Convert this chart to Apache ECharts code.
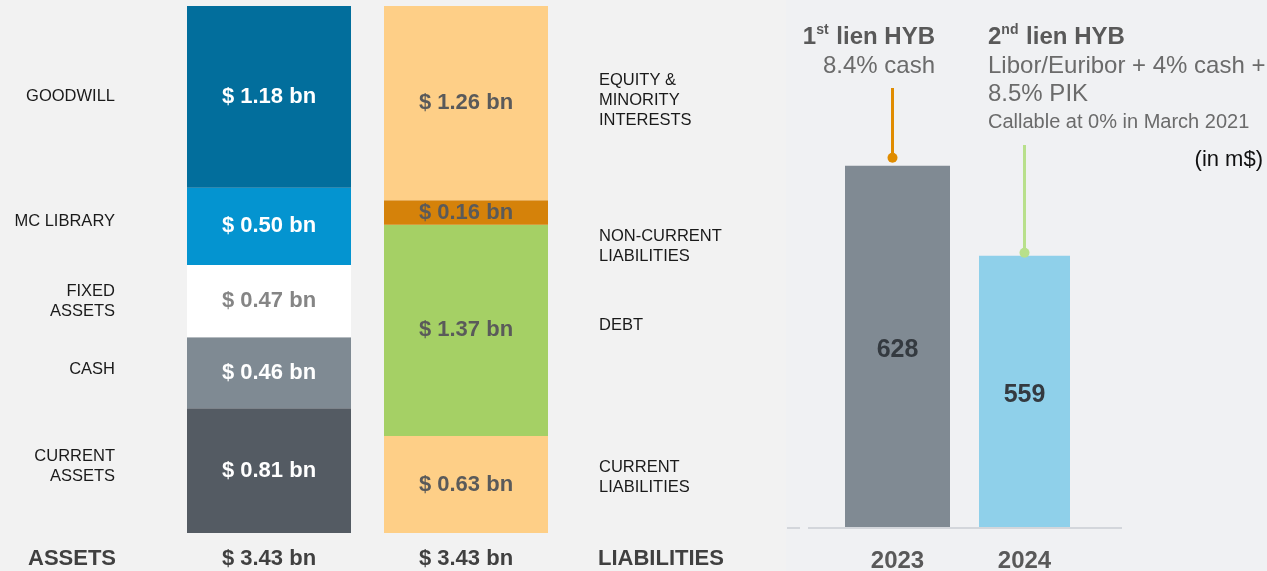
<!DOCTYPE html>
<html>
<head>
<meta charset="utf-8">
<style>
    html, body { margin: 0; padding: 0; background: #f2f2f2; }
    #chart { width: 1267px; height: 571px; }
</style>
</head>
<body>
<div id="chart"></div>
<script src="https://cdn.jsdelivr.net/npm/echarts@6/dist/echarts.min.js"></script>
<script>
var FONT = '"Liberation Sans", Arial, sans-serif';

// balance sheet in $ bn, listed bottom to top
var assetNames = ['CURRENT\nASSETS', 'CASH', 'FIXED\nASSETS', 'MC LIBRARY', 'GOODWILL'];
var assetValues = [0.81, 0.46, 0.47, 0.50, 1.18];
var liabNames = ['CURRENT\nLIABILITIES', 'DEBT', 'NON-CURRENT\nLIABILITIES', 'EQUITY &\nMINORITY\nINTERESTS'];
var liabValues = [0.63, 1.37, 0.16, 1.26];
var sideLabels = ['ASSETS', 'LIABILITIES'];
var totalLabels = ['$ 3.43 bn', '$ 3.43 bn'];

// HYB maturities in m$
var years = ['2023', '2024'];
var hybValues = [628, 559];
var hybNotes = ['8.4% cash', 'Libor/Euribor + 4% cash +\n8.5% PIK', 'Callable at 0% in March 2021'];

// styles
var assetColors = ['#545b63', '#7f8a93', '#ffffff', '#0494d0', '#026e9c'];
var assetTextColors = ['#fff', '#fff', '#858585', '#fff', '#fff'];
var assetNameDy = [-4, -3, 0, -5, 0];
var liabColors = ['#fecf87', '#a5d065', '#d5820a', '#fecf87'];
var liabNameDy = [-7, -5, 34, -3];

(function (win, echarts) {
    var chart = echarts.init(document.getElementById('chart'));
    var series = [];

    function valueLabel(v, color) {
        return {
            show: true,
            position: 'inside',
            formatter: '$ ' + v.toFixed(2) + ' bn',
            color: color,
            fontSize: 22,
            fontWeight: 'bold',
            fontFamily: FONT
        };
    }

    function nameLabel(text, pos, dist, dy) {
        return {
            show: true,
            position: pos,
            distance: dist,
            offset: [0, dy],
            formatter: text,
            color: '#1a1a1a',
            fontSize: 16.5,
            lineHeight: 20,
            fontFamily: FONT
        };
    }

    assetValues.forEach(function (v, i) {
        series.push({
            type: 'bar', stack: 'assets', barWidth: 164, barGap: '-100%',
            data: [v, '-'],
            itemStyle: { color: assetColors[i] },
            label: valueLabel(v, assetTextColors[i]),
            silent: true
        });
        series.push({
            type: 'bar', stack: 'assetNames', barWidth: 164, barGap: '-100%',
            data: [v, '-'],
            itemStyle: { color: 'rgba(0,0,0,0)' },
            label: nameLabel(assetNames[i], 'left', 72, assetNameDy[i]),
            silent: true
        });
    });

    liabValues.forEach(function (v, i) {
        series.push({
            type: 'bar', stack: 'liabs', barWidth: 164, barGap: '-100%',
            data: ['-', v],
            itemStyle: { color: liabColors[i] },
            label: valueLabel(v, '#5a5a5a'),
            silent: true
        });
        series.push({
            type: 'bar', stack: 'liabNames', barWidth: 164, barGap: '-100%',
            data: ['-', v],
            itemStyle: { color: 'rgba(0,0,0,0)' },
            label: nameLabel(liabNames[i], 'right', 51, liabNameDy[i]),
            silent: true
        });
    });

    var hybLabel = {
        show: true,
        position: 'inside',
        offset: [0, 3],
        color: '#343a40',
        fontSize: 25,
        fontWeight: 'bold',
        fontFamily: FONT
    };
    series.push({
        type: 'bar', xAxisIndex: 1, yAxisIndex: 1, barWidth: 105,
        data: [hybValues[0], '-'],
        itemStyle: { color: '#808a93' },
        label: hybLabel,
        silent: true
    });
    series.push({
        type: 'bar', xAxisIndex: 2, yAxisIndex: 1, barWidth: 91,
        data: ['-', hybValues[1]],
        itemStyle: { color: '#8fd0ea' },
        label: hybLabel,
        silent: true
    });

    chart.setOption({
        backgroundColor: '#f2f2f2',
        animation: false,
        grid: [
            { left: 170.5, right: 702.5, top: 6, bottom: 38, outerBoundsMode: 'none' },
            { left: 834, right: 179, top: 72, bottom: 43, outerBoundsMode: 'none' }
        ],
        xAxis: [{
            gridIndex: 0,
            type: 'category',
            data: sideLabels,
            axisLine: { show: false },
            axisTick: { show: false },
            axisLabel: {
                margin: 15,
                color: '#404040',
                fontSize: 22,
                fontWeight: 'bold',
                fontFamily: FONT,
                formatter: function (v, i) {
                    return totalLabels[i];
                }
            }
        }, {
            gridIndex: 1,
            type: 'category',
            data: years,
            axisLine: { show: false },
            axisTick: { show: false },
            axisLabel: {
                margin: 21,
                color: '#595959',
                fontSize: 24,
                fontWeight: 'bold',
                fontFamily: FONT
            }
        }, {
            gridIndex: 1,
            type: 'category',
            data: years,
            show: false
        }],
        yAxis: [
            { gridIndex: 0, type: 'value', min: 0, max: 3.42, show: false },
            { gridIndex: 1, type: 'value', min: 350, max: 700, show: false }
        ],
        series: series
    });

    // annotations tied to bar tops
    var p1 = chart.convertToPixel({ xAxisIndex: 1, yAxisIndex: 1 }, [years[0], hybValues[0]]);
    var p2 = chart.convertToPixel({ xAxisIndex: 2, yAxisIndex: 1 }, [years[1], hybValues[1]]);
    var ox = p1[0] - 5, oy = p1[1] - 8;
    var gx = p2[0], gy = p2[1] - 3;
    var baseY = chart.convertToPixel({ xAxisIndex: 1, yAxisIndex: 1 }, [years[0], 350])[1];

    var txt = function (x, y, text, size, weight, color, align) {
        return {
            type: 'text', x: x, y: y, z: 10,
            style: {
                text: text, fill: color, fontSize: size, fontWeight: weight,
                fontFamily: FONT, align: align, verticalAlign: 'middle', lineHeight: 28
            }
        };
    };
    var sup = function (x, y, num, suf, rest, align) {
        return {
            type: 'text', x: x, y: y, z: 10,
            style: {
                text: '{b|' + num + '}{s|' + suf + '}{b|' + rest + '}',
                align: align, verticalAlign: 'middle',
                rich: {
                    b: { fill: '#595959', fontSize: 24, fontWeight: 'bold', fontFamily: FONT, lineHeight: 28 },
                    s: { fill: '#595959', fontSize: 14, fontWeight: 'bold', fontFamily: FONT, lineHeight: 28, verticalAlign: 'top', padding: [0, 1, 12, 0] }
                }
            }
        };
    };

    chart.setOption({
        graphic: [
            { type: 'rect', z: -1, shape: { x: 786, y: 0, width: 481, height: 571 }, style: { fill: '#f0f1f3' } },
            { type: 'line', z: 10, shape: { x1: 787, y1: baseY, x2: 800, y2: baseY }, style: { stroke: '#d3d6db', lineWidth: 2 } },
            { type: 'line', z: 10, shape: { x1: 808, y1: baseY, x2: 1122, y2: baseY }, style: { stroke: '#d3d6db', lineWidth: 2 } },
            { type: 'line', z: 10, shape: { x1: ox, y1: 88, x2: ox, y2: oy }, style: { stroke: '#e08c00', lineWidth: 3 } },
            { type: 'circle', z: 10, shape: { cx: ox, cy: oy, r: 5 }, style: { fill: '#e08c00' } },
            { type: 'line', z: 10, shape: { x1: gx, y1: 145, x2: gx, y2: gy }, style: { stroke: '#b8e08b', lineWidth: 3 } },
            { type: 'circle', z: 10, shape: { cx: gx, cy: gy, r: 5 }, style: { fill: '#b8e08b' } },
            sup(935, 37, '1', 'st', ' lien HYB', 'right'),
            txt(935, 66, hybNotes[0], 24, 'normal', '#6b6b6b', 'right'),
            sup(988, 37, '2', 'nd', ' lien HYB', 'left'),
            {
                type: 'text', x: 988, y: 52, z: 10,
                style: { text: hybNotes[1], fill: '#6b6b6b', fontSize: 24, fontFamily: FONT, align: 'left', verticalAlign: 'top', lineHeight: 28 }
            },
            txt(988, 122, hybNotes[2], 20, 'normal', '#6b6b6b', 'left'),
            txt(1263, 160, '(in m$)', 22, 'normal', '#111', 'right'),
            txt(28, 559, sideLabels[0], 22, 'bold', '#404040', 'left'),
            txt(598, 559, sideLabels[1], 22, 'bold', '#404040', 'left')
        ]
    });
})(this, echarts);
</script>
</body>
</html>
